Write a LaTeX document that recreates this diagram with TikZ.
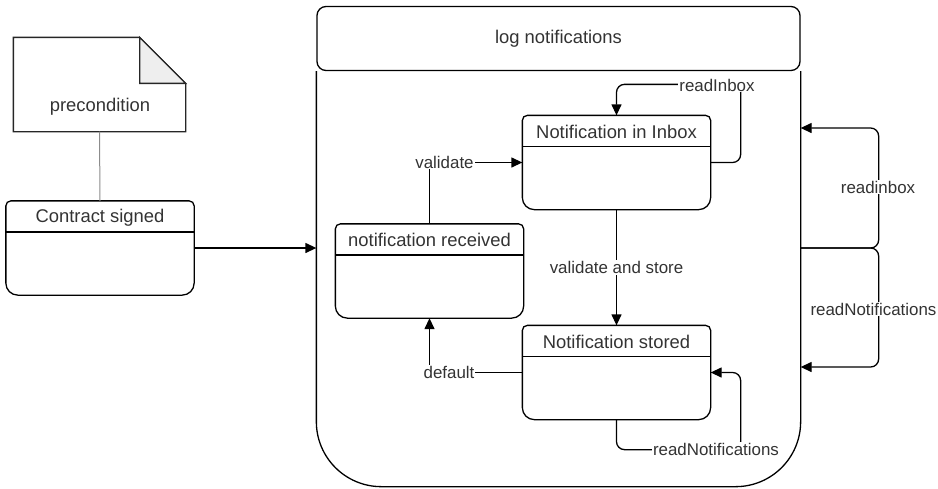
\documentclass[tikz,border=0pt]{standalone}
\usepackage{fontspec}
\setmainfont{Liberation Sans}
\usetikzlibrary{arrows.meta,calc}
\definecolor{txt}{HTML}{333333}
\definecolor{foldgray}{HTML}{EEEEEE}

% A UML state: rounded box with a title compartment
% #1 name, #2 centre, #3 title
\newcommand\umlstate[3]{%
  \node[statebox] (#1) at (#2) {};
  \draw ([yshift=-31pt]#1.north west) [rounded corners=12pt] -- (#1.south west)
        -- (#1.south east) -- ([yshift=-31pt]#1.north east)
        [rounded corners=5pt] -- (#1.north east) -- (#1.north west) -- cycle;
  \draw ([yshift=-31pt]#1.north west) -- ([yshift=-31pt]#1.north east);
  \node[nodefont] (#1-title) at ([yshift=-16.5pt]#1.north) {#3};
}

\begin{document}
\begin{tikzpicture}[x=1pt,y=-1pt,
  line width=1.3pt,
  every node/.style={text=txt},
  nodefont/.style={font=\fontsize{18.4}{20}\selectfont},
  lblfont/.style={font=\fontsize{16.9}{18}\selectfont},
  statebox/.style={minimum width=187pt, minimum height=93pt, inner sep=0pt},
  lbl/.style={lblfont, fill=white, inner sep=1pt},
  arr/.style={-{Triangle[length=11pt,width=10pt]}},
  loopline/.style={arr, rounded corners=8pt},
]
\useasboundingbox (0,0) rectangle (938,488);

% precondition note with folded corner
\node[inner sep=0pt, minimum width=171pt, minimum height=93pt] (pre) at (99.5,84.5) {};
\draw[black!85] (pre.north west) -- ([xshift=-46pt]pre.north east)
      -- ([yshift=-46pt]pre.north east) -- (pre.south east)
      -- (pre.south west) -- cycle;
\draw[black!85, fill=foldgray] ([xshift=-46pt]pre.north east)
      -- ([xshift=-46pt,yshift=-46pt]pre.north east)
      -- ([yshift=-46pt]pre.north east) -- cycle;
\node[nodefont] (pre-text) at (100,107) {precondition};

% states outside the composite state
\umlstate{cs}{100,248}{Contract signed}

% composite state "log notifications"
\node[inner sep=0pt, minimum width=483pt, minimum height=481pt] (logn) at (558.5,245.5) {};
\node[draw, rounded corners=9pt, minimum width=483pt, minimum height=64pt, inner sep=0pt, nodefont]
  (logn-head) at (558.5,38.5) {log notifications};
\draw[rounded corners=65pt] (logn-head.south west) -- (logn.south west)
      -- (logn.south east) -- (logn-head.south east);

% inner states
\umlstate{inbox}{616.5,162.5}{Notification in Inbox}
\umlstate{recv}{429.5,271}{notification received}
\umlstate{stored}{616.5,372.5}{Notification stored}

% note attachment
\draw[black!45, line width=1pt] (pre.south) -- (cs.north);

% entry into the composite state
\draw[arr] (cs.east) -- (logn.west |- cs.east);

% transitions inside
\draw[arr] (recv.north) |- (inbox.west);
\node[lbl] (l-validate) at (444.5,162) {validate};

\draw[loopline] (inbox.east) -- ++(30,0) |- ([yshift=31pt]inbox.north) -- (inbox.north);
\node[lbl] (l-readinbox) at (717,85) {readInbox};

\draw[arr] (inbox.south) -- node[lbl] (l-store) {validate and store} (stored.north);

\draw[arr] (stored.west) -| (recv.south);
\node[lbl] (l-default) at (449,372) {default};

\draw[loopline] (stored.south) -- ++(0,30) -| ([xshift=30pt]stored.east) -- (stored.east);
\node[lbl] (l-readnot) at (716,449) {readNotifications};

% self transitions of the composite state
\coordinate (split) at (logn.east |- cs.east);
\draw[loopline] (split) -- ++(78,0) |- (logn.east |- 0,128);
\draw[loopline] (split) -- ++(78,0) |- (logn.east |- 0,367);
\node[lbl] (l-outinbox) at (878,187) {readinbox};
\node[lbl] (l-outnot) at (873.5,309) {readNotifications};
\end{tikzpicture}
\end{document}
